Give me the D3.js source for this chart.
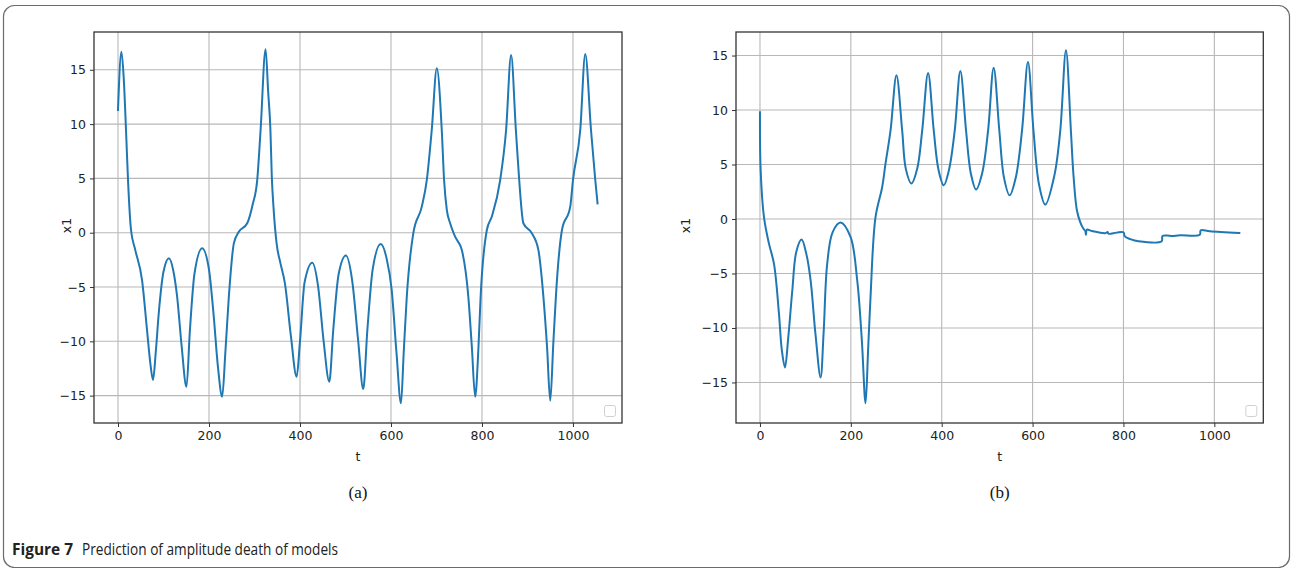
<!DOCTYPE html>
<html>
<head>
<meta charset="utf-8">
<script src="https://cdn.jsdelivr.net/npm/d3@7"></script>
<style>
  html, body { margin: 0; padding: 0; background: #fff; }
  svg { display: block; }
</style>
</head>
<body>
<svg id="fig" width="1293" height="568"></svg>
<script>
// ---------- data ----------
const xTicks = [0, 200, 400, 600, 800, 1000];
const yTicks = [-15, -10, -5, 0, 5, 10, 15];

// panel (a)
const tA = [0, 7.5, 12.5, 17.6, 22, 28.6, 38, 52.8, 63.8, 71, 77, 83, 89.6, 100, 112, 122, 130, 140, 150.5, 158, 168, 185, 200, 210, 220, 229, 236, 243.6, 254.6, 265.6, 284, 296, 306, 313.4, 324.4, 330, 335, 338, 342, 348.6, 357, 366.9, 380, 392.6, 400, 410, 427, 440, 452, 464.4, 473, 485, 501, 515, 528, 539, 548, 560, 577.5, 590, 601.6, 612, 622, 628, 634.7, 649, 667.7, 678.7, 689.6, 700.7, 711.6, 716.7, 722.7, 730, 741, 755.7, 770, 777.7, 785, 792.3, 797, 810.7, 821.7, 840, 853, 864, 874.5, 881.8, 891, 909.8, 924, 935, 943, 950, 957, 964.8, 975.8, 994, 1000, 1016, 1027, 1039.6, 1049, 1054];
const xA = [11.3, 16.67, 14.3, 9.46, 4.85, 0.25, -1.6, -4.35, -8.96, -12, -13.56, -11, -7.4, -3.6, -2.36, -3.6, -5.9, -10.5, -14.18, -9, -3.8, -1.44, -3.4, -7.5, -12.5, -15.1, -11, -5.9, -0.98, 0.09, 0.87, 2.6, 4.85, 9.46, 16.9, 13, 9.46, 5.2, 2.2, -0.98, -2.8, -4.66, -9.5, -13.26, -10, -4.6, -2.76, -5, -10, -13.72, -9, -3.8, -2.1, -4.5, -10, -14.4, -9, -3.3, -1.04, -2.3, -5.28, -11, -15.7, -11, -5.9, -0.06, 2.4, 4.85, 9.46, 15.14, 9.46, 4.85, 2.1, 0.87, -0.37, -1.6, -5.9, -10.5, -15.1, -10.5, -5.9, 0.25, 1.5, 4.85, 9.46, 16.36, 9.46, 4.85, 0.87, -0.06, -1.6, -5.9, -10.5, -15.47, -10, -4.36, 0.25, 2.4, 4.85, 9.46, 16.45, 9.46, 4.85, 2.7];

// panel (b)
const tB = [0, 1.5, 8.8, 19.8, 30.8, 41.8, 48, 55, 62, 71.2, 80, 91.6, 102, 111.4, 122, 133.4, 140, 148, 160, 177.4, 199.3, 214, 224, 232.3, 238, 243.3, 254.3, 269, 276.3, 287.3, 300.4, 313, 321, 333.4, 346, 357, 370, 382.5, 393, 404.4, 416, 428.6, 441, 453.6, 464, 475.6, 489, 502, 514.3, 526.8, 537, 549.5, 563, 576.7, 589.8, 602, 614, 628, 648, 660.9, 673.4, 684.3, 690, 697.5, 705, 712, 716, 717.5, 719.5, 730, 760, 765, 767, 785, 800, 803, 815, 833, 884, 886, 905, 925, 968, 970, 990, 1055];
const xB = [9.8, 4.47, 0.18, -2.26, -4.1, -8.68, -12, -13.63, -11, -6.54, -3, -1.89, -3.2, -5.62, -10.5, -14.55, -10.5, -4.1, -1.2, -0.33, -1.65, -5.62, -11, -16.9, -12, -7.16, 0.18, 2.94, 5.08, 8.1, 13.18, 8.1, 4.6, 3.25, 4.6, 8.1, 13.4, 8.1, 4.5, 3.09, 4.5, 8.1, 13.58, 8.1, 4.2, 2.7, 4.2, 8.1, 13.89, 8.1, 3.8, 2.17, 3.8, 8.1, 14.4, 8.1, 3.2, 1.32, 4.0, 8.1, 15.48, 8.1, 4.0, 0.8, -0.3, -0.9, -1.1, -1.45, -0.98, -1.1, -1.3, -1.2, -1.35, -1.25, -1.22, -1.6, -1.85, -2.05, -2.05, -1.55, -1.55, -1.5, -1.45, -1.04, -1.13, -1.28];

const panels = [
  { t: tA, x: xA, left: 94, right: 622, yDom: [-17.52, 18.48], label: "(a)", ylabX: 67, curve: d3.curveMonotoneX },
  { t: tB, x: xB, left: 736, right: 1263.3, yDom: [-18.72, 17.16], label: "(b)", ylabX: 686, curve: d3.curveCatmullRom.alpha(0.5) }
];

// ---------- drawing ----------
const svg = d3.select("#fig");
const plotTop = 32, plotBottom = 423;
const tickFont = "DejaVu Sans, sans-serif";

// figure frame
svg.append("rect")
  .attr("x", 3.5).attr("y", 5.5).attr("width", 1286).attr("height", 562)
  .attr("rx", 11).attr("fill", "none").attr("stroke", "#6b6b6b").attr("stroke-width", 1.2);

panels.forEach(p => {
  const xs = d3.scaleLinear().domain([-52.75, 1107.75]).range([p.left, p.right]);
  const ys = d3.scaleLinear().domain(p.yDom).range([plotBottom, plotTop]);
  const g = svg.append("g");

  // grid
  g.selectAll(".gx").data(xTicks).join("line")
    .attr("x1", d => xs(d)).attr("x2", d => xs(d)).attr("y1", plotTop).attr("y2", plotBottom)
    .attr("stroke", "#b8b8b8").attr("stroke-width", 1.1);
  g.selectAll(".gy").data(yTicks).join("line")
    .attr("y1", d => ys(d)).attr("y2", d => ys(d)).attr("x1", p.left).attr("x2", p.right)
    .attr("stroke", "#b8b8b8").attr("stroke-width", 1.1);

  // line
  const data = p.t.map((t, i) => [t, p.x[i]]);
  const line = d3.line().x(d => xs(d[0])).y(d => ys(d[1])).curve(p.curve);
  g.append("path").datum(data).attr("d", line)
    .attr("fill", "none").attr("stroke", "#1f77b4").attr("stroke-width", 2)
    .attr("stroke-linejoin", "round").attr("stroke-linecap", "square");

  // axes
  const fmt = d => d < 0 ? "\u2212" + Math.abs(d) : String(d);
  const xAxis = d3.axisBottom(xs).tickValues(xTicks).tickSize(4).tickPadding(4).tickFormat(fmt);
  const yAxis = d3.axisLeft(ys).tickValues(yTicks).tickSize(4).tickPadding(4).tickFormat(fmt);
  const ax = g.append("g").attr("transform", `translate(0,${plotBottom})`).call(xAxis);
  const ay = g.append("g").attr("transform", `translate(${p.left},0)`).call(yAxis);
  [ax, ay].forEach(a => {
    a.select(".domain").remove();
    a.selectAll(".tick line").attr("stroke", "#333").attr("stroke-width", 1);
    a.selectAll(".tick text").attr("fill", "#222").attr("font-family", tickFont).attr("font-size", 12.5);
  });

  // frame
  g.append("rect").attr("x", p.left).attr("y", plotTop)
    .attr("width", p.right - p.left).attr("height", plotBottom - plotTop)
    .attr("fill", "none").attr("stroke", "#333").attr("stroke-width", 1.3);

  // empty legend box
  g.append("rect").attr("x", p.right - 17.5).attr("y", 405.5).attr("width", 11).attr("height", 11)
    .attr("rx", 2).attr("fill", "#fff").attr("stroke", "#d0d0d0").attr("stroke-width", 1);

  // axis labels
  const cx = (p.left + p.right) / 2;
  g.append("text").attr("x", cx).attr("y", 461).attr("text-anchor", "middle")
    .attr("font-family", tickFont).attr("font-size", 12.5).attr("fill", "#222").text("t");
  g.append("text").attr("transform", `translate(${p.ylabX + 4},${(plotTop + plotBottom) / 2 - 2}) rotate(-90)`)
    .attr("text-anchor", "middle").attr("font-family", tickFont).attr("font-size", 12.5)
    .attr("fill", "#222").text("x1");
  g.append("text").attr("x", cx).attr("y", 498).attr("text-anchor", "middle")
    .attr("font-family", "Liberation Serif, serif").attr("font-size", 17).attr("fill", "#111").text(p.label);
});

// caption
const capFont = "Open Sans, Noto Sans, sans-serif";
svg.append("text").attr("x", 12).attr("y", 555)
  .attr("font-family", capFont).attr("font-size", 16).attr("font-weight", "bold").attr("fill", "#222")
  .attr("textLength", 61).attr("lengthAdjust", "spacingAndGlyphs").text("Figure 7");
svg.append("text").attr("x", 82).attr("y", 555)
  .attr("font-family", capFont).attr("font-size", 16).attr("fill", "#222")
  .attr("textLength", 256).attr("lengthAdjust", "spacingAndGlyphs").text("Prediction of amplitude death of models");
</script>
</body>
</html>
